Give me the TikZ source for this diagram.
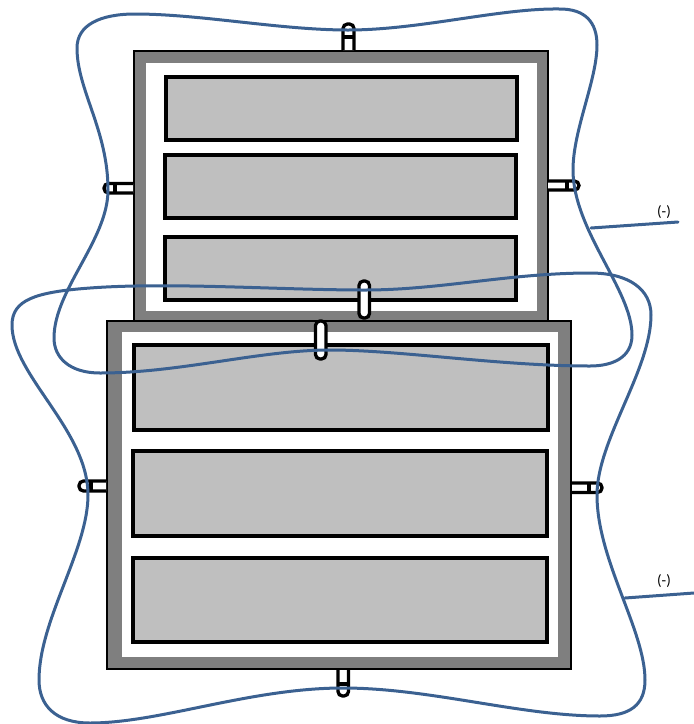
\documentclass[tikz,border=0pt]{standalone}
\usepackage{fontspec}
\setmainfont{Carlito}
\definecolor{wire}{HTML}{3B6191}
\definecolor{frameg}{HTML}{7F7F7F}
\definecolor{cellg}{HTML}{BFBFBF}
\tikzset{
 framebox/.style={draw=black,line width=1.2pt,fill=frameg},
 innerbox/.style={fill=white,draw=none},
 cell/.style={draw=black,line width=3.3pt,fill=cellg},
 tab/.style={draw=black,line width=3.3pt,fill=white,rounded corners=4.5pt},
 tabline/.style={draw=black,line width=3.3pt},
 wireline/.style={draw=wire,line width=3pt,line cap=round,line join=round},
 lab/.style={font=\fontsize{15pt}{16pt}\selectfont,text=black,inner sep=0pt}
}
\begin{document}
\begin{tikzpicture}[x=1pt,y=-1pt]
\useasboundingbox (0,0) rectangle (694,724);
% upper module
\draw[framebox] (134,51) rectangle (548,321);
\fill[innerbox] (146,63) rectangle (537,311);
\draw[cell] (166,77) rectangle (517,140);
\draw[cell] (165,155) rectangle (516,218);
\draw[cell] (165,237) rectangle (516,300);
% upper tabs
\draw[tab] (343,50) -- (343,24) -- (354,24) -- (354,50);
\draw[tabline] (343,37) -- (354,37);
\draw[tab] (133,183.5) -- (104,183.5) -- (104,193) -- (133,193);
\draw[tabline] (115,183.5) -- (115,193);
\draw[tab] (548,181) -- (579,181) -- (579,190) -- (548,190);
\draw[tabline] (567,181) -- (567,190);
\draw[tab] (359,281) rectangle (369.5,318);
% lower module
\draw[framebox] (107,321) rectangle (571,669);
\fill[innerbox] (122,332) rectangle (558,657);
\draw[cell] (134,345) rectangle (548,430);
\draw[cell] (133,451) rectangle (547,536);
\draw[cell] (133,558) rectangle (547,642);
% lower tabs
\draw[tab] (315.5,321) rectangle (326,359);
\draw[tab] (106,481) -- (79,481) -- (79,491) -- (106,491);
\draw[tabline] (91,481) -- (91,491);
\draw[tab] (572,483) -- (602,483) -- (602,492.5) -- (572,492.5);
\draw[tabline] (589,483) -- (589,492.5);
\draw[tab] (338,670) -- (338,696) -- (348.5,696) -- (348.5,670);
\draw[tabline] (338,684) -- (348.5,684);
% wires
\draw[wireline] (348,30) .. controls (420,30) and (500,8) .. (560,9)
 .. controls (585,9) and (597,22) .. (597,45)
 .. controls (597,80) and (573,130) .. (573,170)
 .. controls (573,230) and (632,290) .. (632,335)
 .. controls (632,358) and (612,366) .. (590,366)
 .. controls (500,366) and (400,350) .. (330,350)
 .. controls (260,350) and (180,373) .. (100,373)
 .. controls (70,373) and (54,358) .. (54,338)
 .. controls (54,290) and (108,240) .. (108,190)
 .. controls (108,130) and (77,90) .. (77,48)
 .. controls (77,25) and (100,14) .. (135,14)
 .. controls (200,14) and (280,30) .. (348,30) -- cycle;
\draw[wireline] (365,290) .. controls (440,290) and (510,273) .. (590,273)
 .. controls (630,273) and (651,290) .. (651,315)
 .. controls (651,370) and (597,440) .. (597,495)
 .. controls (597,560) and (645,630) .. (645,680)
 .. controls (645,705) and (630,716) .. (600,716)
 .. controls (520,716) and (430,688) .. (343,688)
 .. controls (250,688) and (160,723) .. (90,723)
 .. controls (55,723) and (39,705) .. (39,680)
 .. controls (39,620) and (88,550) .. (88,495)
 .. controls (88,430) and (12,375) .. (12,325)
 .. controls (12,300) and (35,292) .. (90,288)
 .. controls (170,282) and (280,290) .. (365,290) -- cycle;
% bus leads and labels
\coordinate (busA) at (591,228);
\coordinate (endA) at (678,222);
\coordinate (busB) at (625,598);
\coordinate (endB) at (694,593);
\draw[wireline] (busA) -- (endA);
\draw[wireline] (busB) -- (endB);
\node[lab] (labA) at (664,212) {(-)};
\node[lab] (labB) at (664,581) {(-)};
\end{tikzpicture}
\end{document}
